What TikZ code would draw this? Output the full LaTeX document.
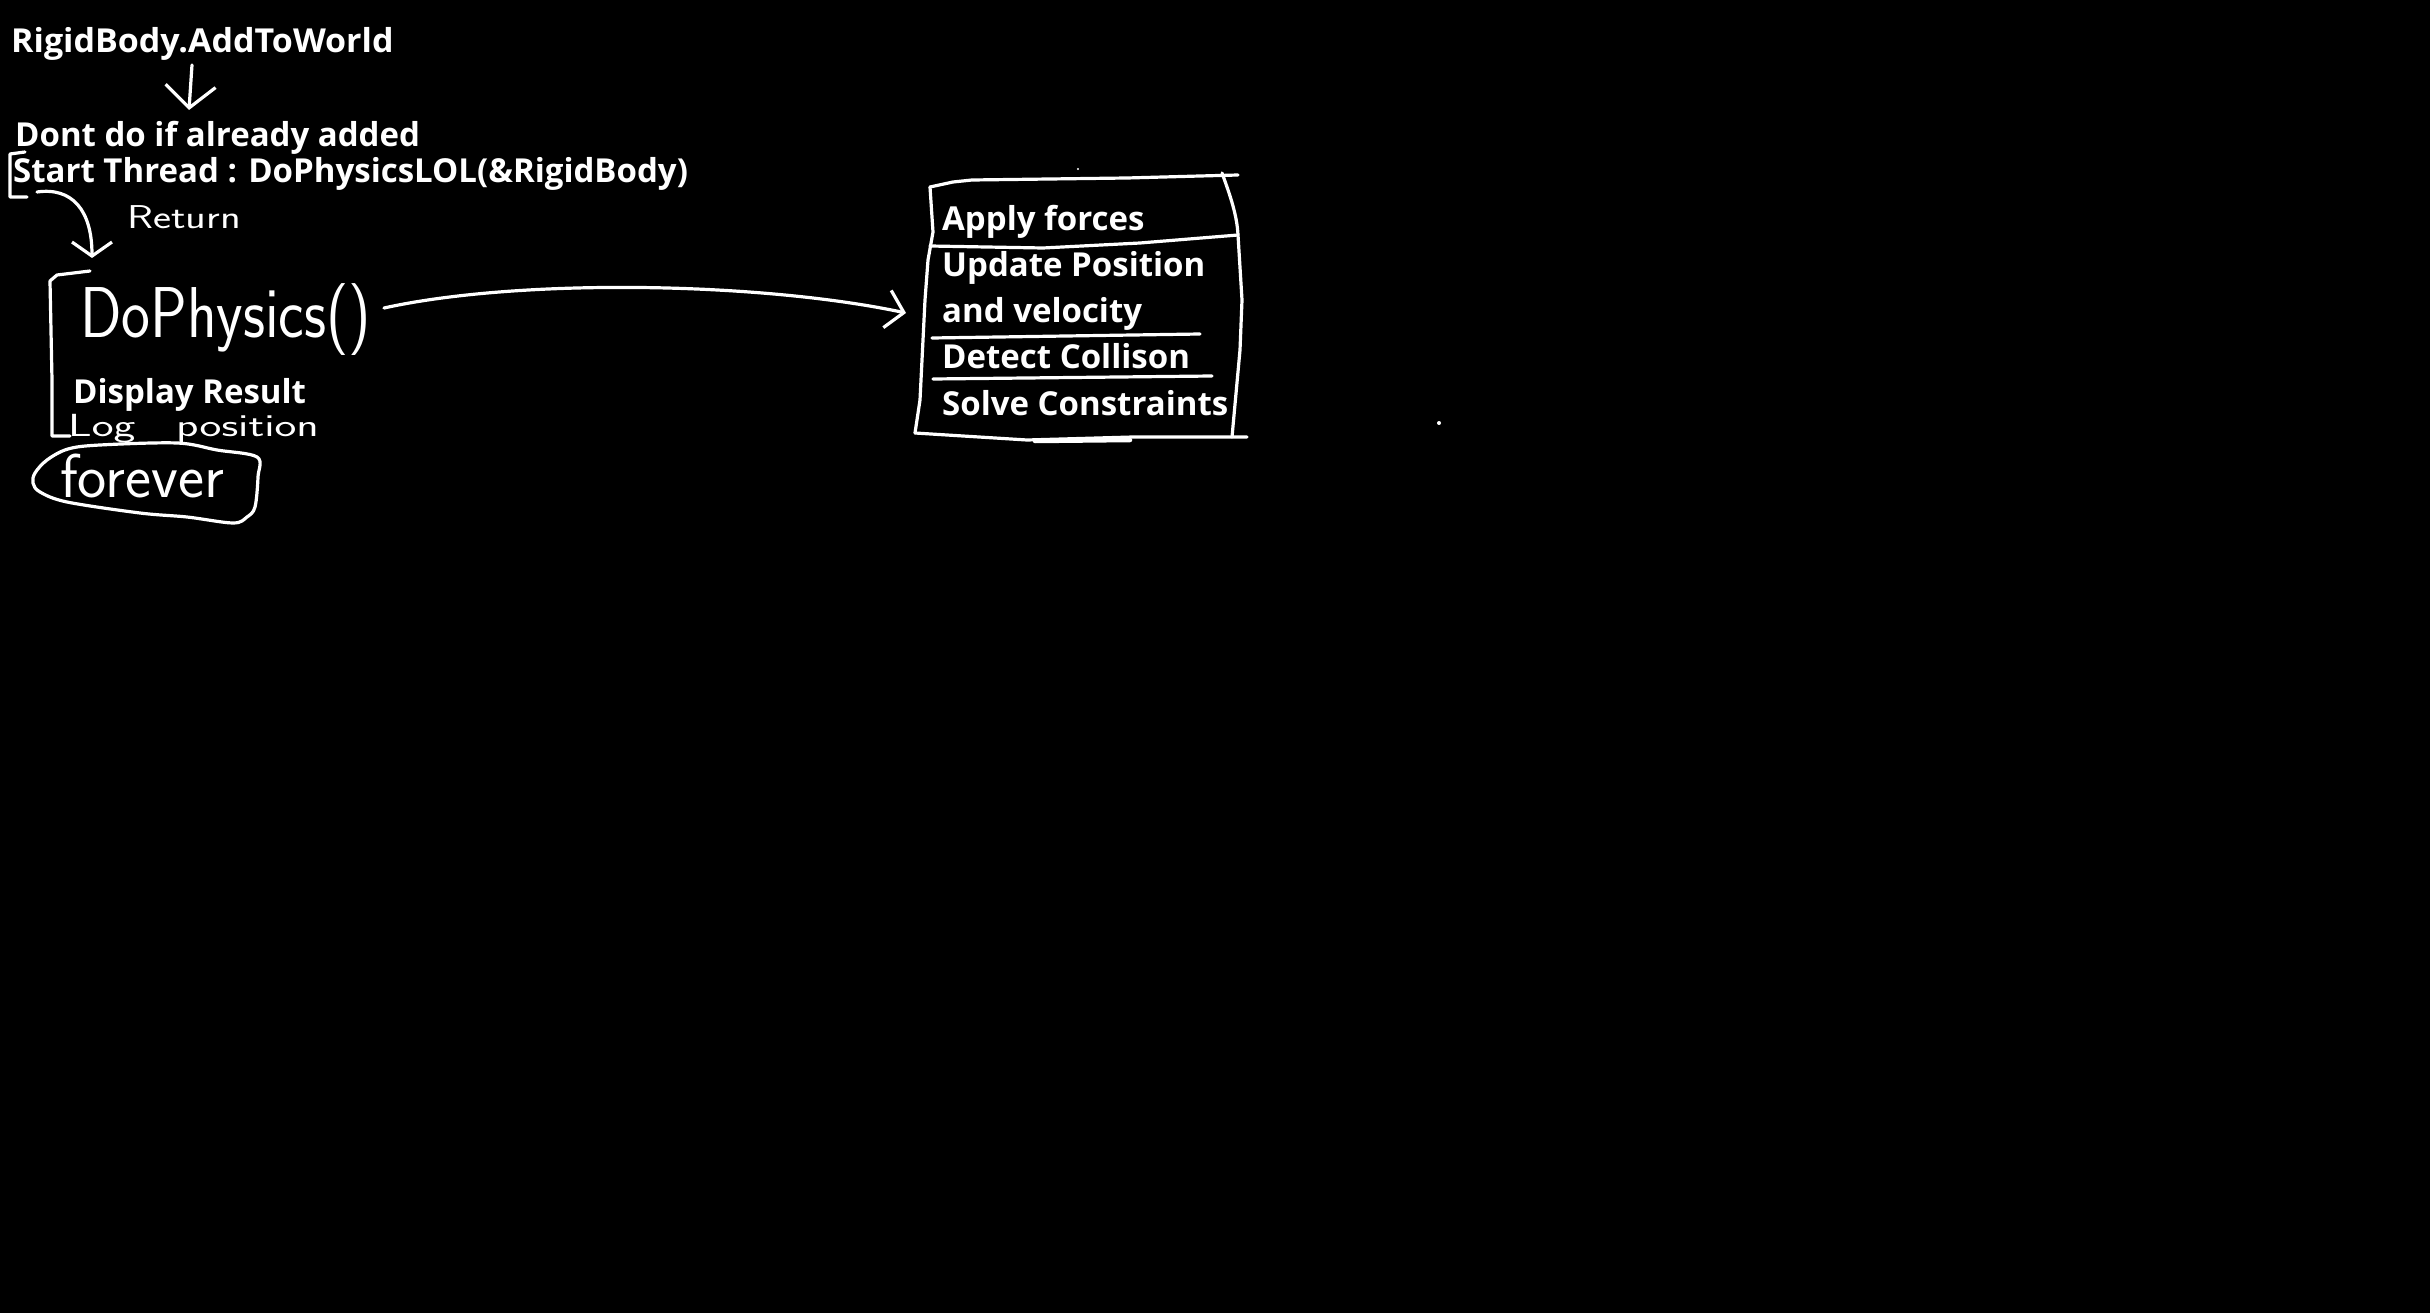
\documentclass[tikz,border=0pt]{standalone}
\usepackage{fontspec}
\setmainfont{Open Sans}
\usetikzlibrary{arrows.meta}
\begin{document}
\begin{tikzpicture}[x=1pt,y=-1pt,line cap=round,line join=round,
  ink/.style={draw=white,line width=3.2pt},
  typed/.style={text=white,font=\bfseries\fontsize{33}{39}\selectfont,inner sep=0pt,anchor=base west},
  hand/.style={text=white,inner sep=0pt,anchor=base west}]
\fill[black] (0,0) rectangle (2430,1313);
\useasboundingbox (0,0) rectangle (2430,1313);
% typed texts
\node[typed] (add) at (11,53) {\scalebox{1.03}[1]{RigidBody.AddToWorld}};
\node[typed] (dont) at (15,147) {Dont do if already added};
\node[typed] (start) at (13,183) {Start Thread : DoPhysicsLOL(\&RigidBody)};
\node[typed] (disp) at (73,403) {Display Result};
\node[typed] (t1) at (942,231) {Apply forces};
\node[typed] (t2) at (942,277) {Update Position};
\node[typed] (t3) at (942,323) {and velocity};
\node[typed] (t4) at (942,369) {Detect Collison};
\node[typed] (t5) at (942,415) {Solve Constraints};
% handwritten texts
\node[hand] (ret) at (127,229) {\sffamily\fontsize{33}{33}\selectfont\scalebox{1.3}[1]{Return}};
\node[hand] (dophys) at (80,338) {\sffamily\fontsize{72}{72}\selectfont\scalebox{0.85}[1]{DoPhysics()}};
\node[hand] (logpos) at (68,436) {\sffamily\fontsize{32}{32}\selectfont\scalebox{1.45}[1]{Log\hspace{28pt}position}};
\node[hand] (forever) at (60,497) {\sffamily\fontsize{62}{62}\selectfont forever};
% arrow AddToWorld -> Dont do
\coordinate (a1s) at (192,65);
\coordinate (a1e) at (189,110);
\draw[ink,-{Straight Barb[length=22pt,width=50pt]}] (a1s) -- (a1e);
% bracket round Start Thread and Return arrow
\draw[ink] (25,152) -- (10,154) -- (10,197) -- (27,197);
\coordinate (a2s) at (37,192);
\coordinate (a2e) at (92,258);
\draw[ink,-{Straight Barb[length=14pt,width=40pt]}] (a2s) .. controls (72,187) and (92,210) .. (a2e);
% bracket round DoPhysics
\draw[ink] (90,271) -- (57,275) -- (50,281) -- (52,380) -- (52,436) -- (70,436);
% forever loop
\draw[ink] plot[smooth cycle,tension=0.55] coordinates {(68,449) (100,445) (177,443) (217,450) (257,457) (258,477) (255,507) (247,517) (233,523) (187,517) (140,513) (67,502) (40,492) (33,483) (35,473) (47,460)};
% arrow DoPhysics -> box
\coordinate (a3s) at (384,308);
\coordinate (a3e) at (906,313);
\draw[ink,-{Straight Barb[length=17pt,width=38pt]}] (a3s) .. controls (520,278) and (760,282) .. (a3e);
% box outline
\draw[ink] (930,187) -- (953,182) -- (972,180) -- (1127,178) -- (1200,176) -- (1238,175);
\draw[ink] (1222,173) .. controls (1230,195) and (1237,215) .. (1238,235) -- (1242,300) -- (1240,350) -- (1232,437);
\draw[ink] (930,187) -- (933,232) -- (928,260) -- (925,300) -- (920,400) -- (915,433);
\draw[ink] (915,433) -- (1027,440) -- (1133,437) -- (1247,437);
\draw[ink,line width=4.5pt] (1035,441) -- (1130,440);
\draw[ink] (930,246) -- (1043,248) -- (1140,243) -- (1238,235);
\draw[ink] (932,338) -- (1200,334);
\draw[ink] (933,379) -- (1212,376);
% stray dots
\fill[white] (1439,423) circle (2pt);
\fill[white] (1078,169) circle (1.2pt);
\end{tikzpicture}
\end{document}
